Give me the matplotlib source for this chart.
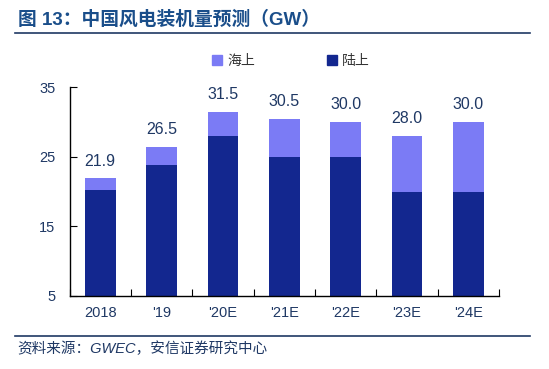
import matplotlib
matplotlib.use("Agg")
import matplotlib.pyplot as plt
import numpy as np
from matplotlib.lines import Line2D
from matplotlib.patches import Patch

plt.rcParams['font.family'] = ['Liberation Sans', 'Noto Sans CJK SC', 'DejaVu Sans']

# data (GW)
years = ['2018', "'19", "'20E", "'21E", "'22E", "'23E", "'24E"]
onshore = [20.2, 23.8, 28.0, 25.0, 25.0, 20.0, 20.0]
totals = [21.9, 26.5, 31.5, 30.5, 30.0, 28.0, 30.0]
offshore = [t - o for t, o in zip(totals, onshore)]

c_off = '#7B7BF5'
c_on = '#13278F'
c_text = '#1F3864'

fig = plt.figure(figsize=(5.49, 3.69), dpi=100)
ax = fig.add_axes([0.1266, 0.198, 0.7824, 0.565])

x = np.arange(len(years))
ax.bar(x, onshore, width=0.5, color=c_on, bottom=0)
ax.bar(x, offshore, width=0.5, color=c_off, bottom=onshore)

for xi, t in zip(x, totals):
    ax.annotate(f'{t:.1f}', (xi, t), xytext=(0, 7), textcoords='offset points',
                ha='center', va='bottom', fontsize=11.5, color=c_text)

ax.set_xlim(-0.5, len(years) - 0.5)
ax.set_ylim(5, 35)
ax.set_yticks([5, 15, 25, 35])
ax.tick_params(axis='y', direction='in', length=5, labelsize=10.5,
               labelcolor=c_text, pad=10)

# category boundary ticks, labels at bar centres
ax.set_xticks(np.arange(-0.5, len(years), 1.0))
ax.set_xticklabels([])
ax.tick_params(axis='x', which='major', direction='in', length=5)
ax.set_xticks(x, minor=True)
ax.set_xticklabels(years, minor=True)
ax.tick_params(axis='x', which='minor', length=0, labelsize=10.5,
               labelcolor=c_text, pad=7)

for s in ['top', 'right']:
    ax.spines[s].set_visible(False)
for s in ['left', 'bottom']:
    ax.spines[s].set_linewidth(1.0)

# legend
handles = [Patch(color=c_off, label='海上'), Patch(color=c_on, label='陆上')]
fig.legend(handles=handles, loc='center', bbox_to_anchor=(0.53, 0.835), ncol=2,
           frameon=False, fontsize=10, handlelength=0.7, handleheight=0.7,
           handletextpad=0.4, columnspacing=5.2, labelcolor='#333333')

# title and rules
fig.text(0.033, 0.948, '图 13：中国风电装机量预测（GW）', fontsize=13.5, fontweight='bold',
         color='#1A4E8A', va='center', ha='left')
fig.add_artist(Line2D([0.027, 0.965], [1 - 33 / 369] * 2, color='#1F3864', lw=1.2))
fig.add_artist(Line2D([0.027, 0.965], [1 - 335.5 / 369] * 2, color='#1F3864', lw=1.2))
fig.text(0.031, 1 - 349 / 369, '资料来源：GWEC，安信证券研究中心', fontsize=10.5,
         style='italic', color='#1F3864', va='center', ha='left')

fig.savefig('out.png', dpi=100)
